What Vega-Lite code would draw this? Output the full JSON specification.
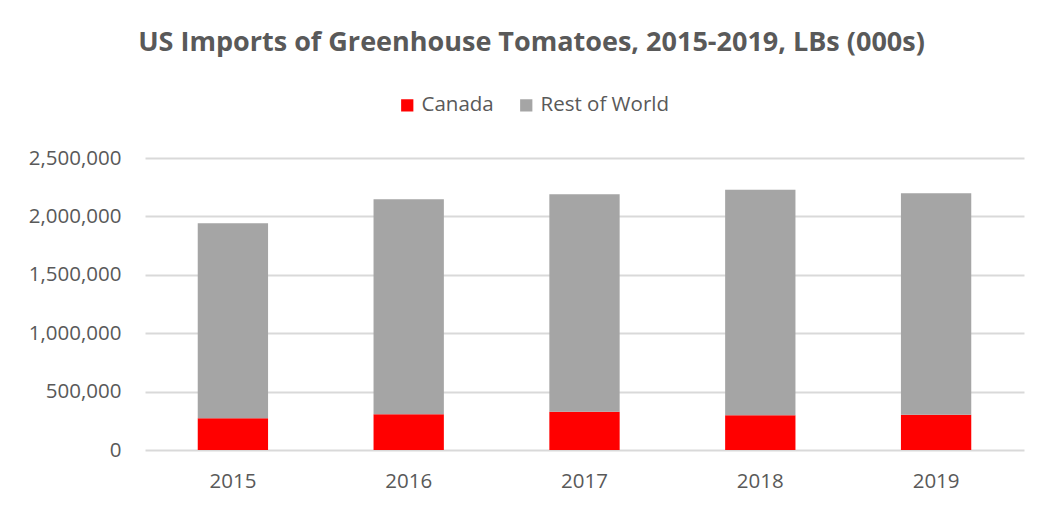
{
  "$schema": "https://vega.github.io/schema/vega-lite/v6.json",
  "width": 879,
  "height": 292,
  "autosize": {"type": "none"},
  "padding": {"left": 145, "top": 158, "right": 20, "bottom": 58},
  "background": "white",
  "title": {
    "text": "US Imports of Greenhouse Tomatoes, 2015-2019, LBs (000s)",
    "font": "Open Sans",
    "fontSize": 27,
    "fontWeight": "bold",
    "color": "#595959",
    "anchor": "middle",
    "dx": -53,
    "offset": 0,
    "baseline": "alphabetic",
    "dy": -17
  },
  "data": {
    "values": [
      {"year": "2015", "region": "Canada", "value": 271000},
      {"year": "2015", "region": "Rest of World", "value": 1670000},
      {"year": "2016", "region": "Canada", "value": 306000},
      {"year": "2016", "region": "Rest of World", "value": 1840000},
      {"year": "2017", "region": "Canada", "value": 328000},
      {"year": "2017", "region": "Rest of World", "value": 1861000},
      {"year": "2018", "region": "Canada", "value": 297000},
      {"year": "2018", "region": "Rest of World", "value": 1932000},
      {"year": "2019", "region": "Canada", "value": 302000},
      {"year": "2019", "region": "Rest of World", "value": 1896000}
    ]
  },
  "mark": {"type": "bar"},
  "encoding": {
    "x": {
      "field": "year",
      "type": "nominal",
      "scale": {"paddingInner": 0.6, "paddingOuter": 0.3},
      "axis": {
        "title": null,
        "labelAngle": 0,
        "domain": false,
        "ticks": false,
        "labelPadding": 21,
        "labelFont": "Open Sans",
        "labelFontSize": 20.5,
        "labelColor": "#595959"
      }
    },
    "y": {
      "field": "value",
      "type": "quantitative",
      "stack": "zero",
      "scale": {"domain": [0, 2500000], "nice": false},
      "axis": {
        "title": null,
        "values": [0, 500000, 1000000, 1500000, 2000000, 2500000],
        "format": ",.0f",
        "domain": false,
        "ticks": false,
        "grid": true,
        "gridColor": "#D9D9D9",
        "gridWidth": 2,
        "labelPadding": 24,
        "labelFont": "Open Sans",
        "labelFontSize": 20.5,
        "labelColor": "#595959"
      }
    },
    "color": {
      "field": "region",
      "type": "nominal",
      "scale": {"domain": ["Canada", "Rest of World"], "range": ["#FF0000", "#A5A5A5"]},
      "legend": {
        "title": null,
        "orient": "none",
        "direction": "horizontal",
        "legendX": 252,
        "legendY": -63,
        "symbolType": "square",
        "symbolSize": 150,
        "symbolStrokeWidth": 0,
        "labelFont": "Open Sans",
        "labelFontSize": 20.5,
        "labelColor": "#595959",
        "labelOffset": 4,
        "columnPadding": 22
      }
    },
    "order": {"field": "region", "sort": "ascending"}
  },
  "config": {"view": {"stroke": null}}
}
